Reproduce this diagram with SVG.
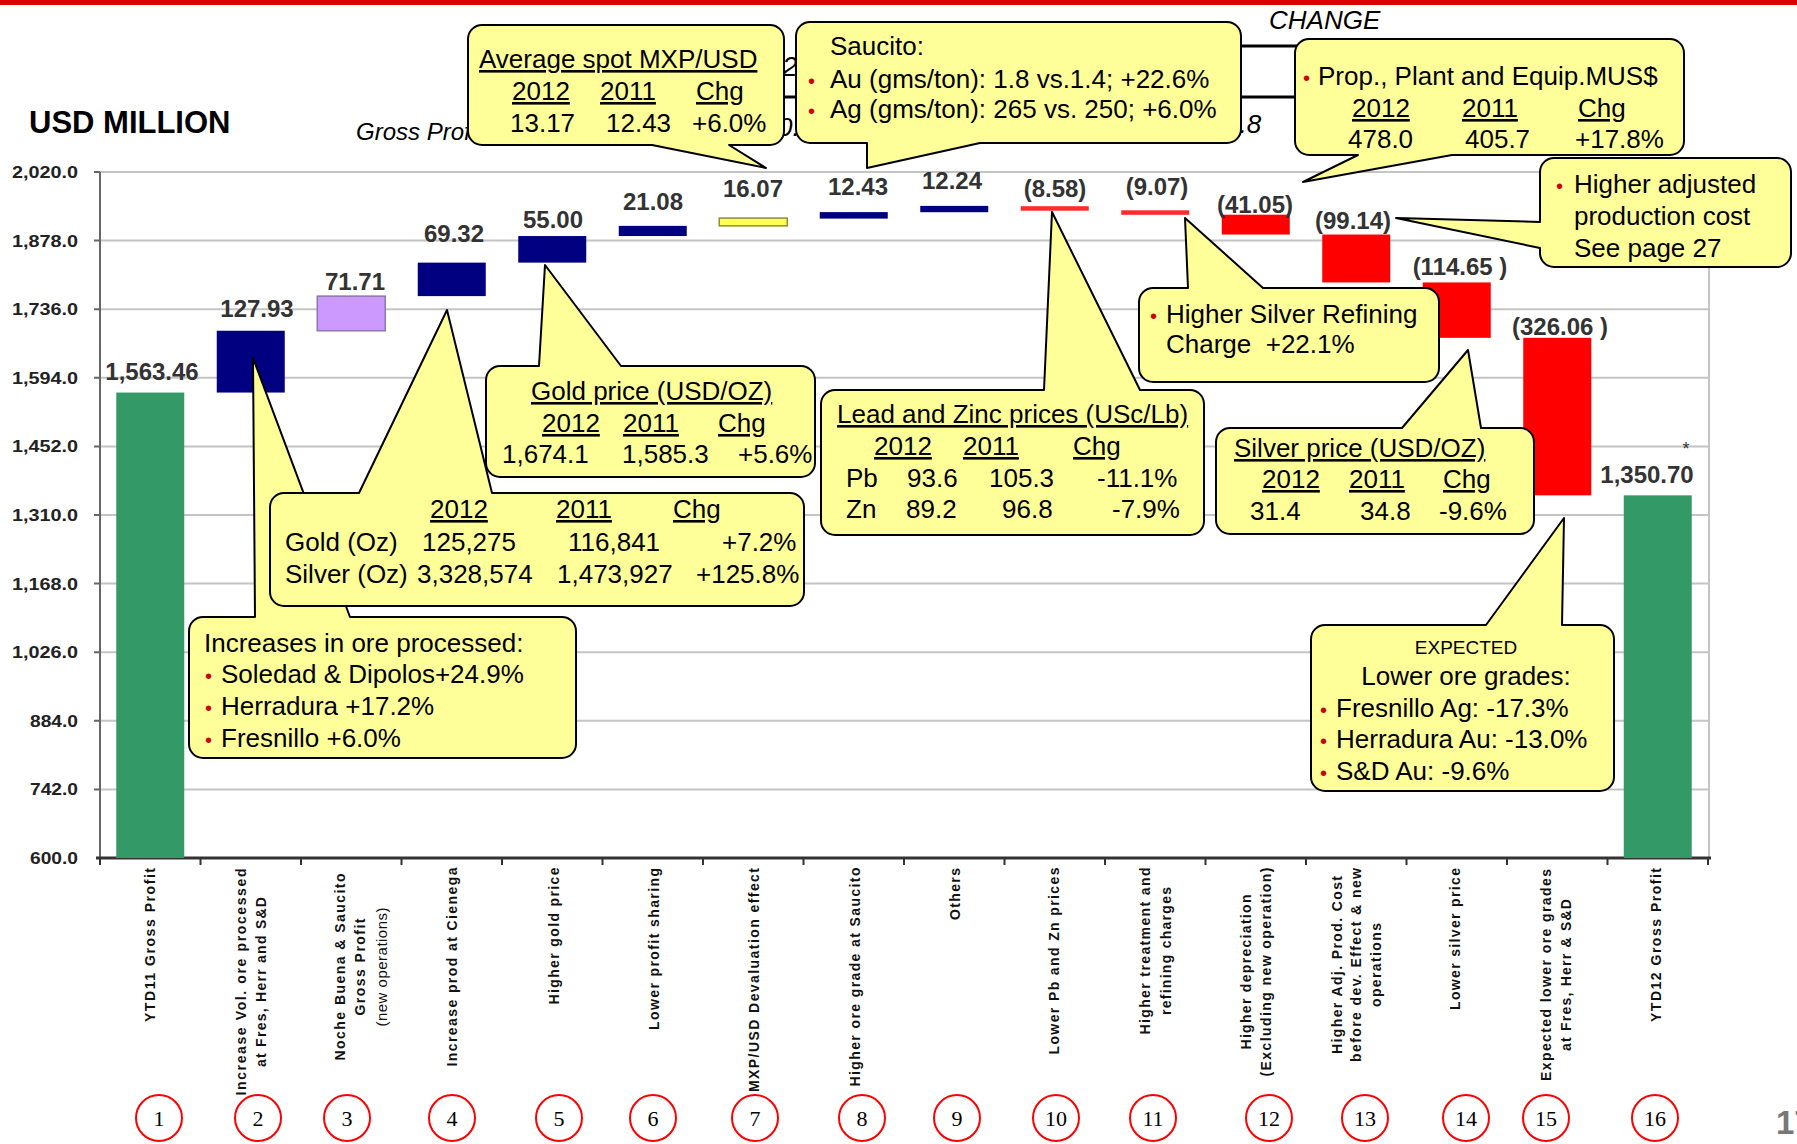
<svg xmlns="http://www.w3.org/2000/svg" width="1797" height="1144" viewBox="0 0 1797 1144">
<style>
text{font-family:"Liberation Sans",Arial,sans-serif}
.cl{fill:#ffff99;stroke:#000;stroke-width:2;stroke-linejoin:round}
.t{font-size:26px;fill:#000}
.u{text-decoration:underline}
.bl{font-size:20px;fill:#cc0000}
.v{font-size:24px;font-weight:bold;fill:#333;text-anchor:middle}
.ax{font-size:16px;font-weight:bold;fill:#222}
.cat{font-size:14px;font-weight:bold;fill:#111;text-anchor:middle}
.catr{font-size:15px;fill:#111;text-anchor:middle}
.num{font-family:"Liberation Serif","Times New Roman",serif;font-size:22px;fill:#000;text-anchor:middle}
.grid{stroke:#c4c4c4;stroke-width:2}
.hid{font-style:italic;fill:#000}
.navy{fill:#000080}
.red{fill:#ff0000}
.green{fill:#339966}
.circ{fill:none;stroke:#ff0000;stroke-width:2}
</style>
<rect x="0" y="0" width="1797" height="1144" fill="#fff"/>
<rect x="0" y="0" width="1797" height="5" fill="#dd0000"/>

<g id="title">
<text x="29" y="133" font-size="31" font-weight="bold" fill="#000">USD MILLION</text>
</g>

<g id="header-background">
<text class="hid" x="356" y="140" style="font-size:24px">Gross Profit</text>
<text class="hid" x="782" y="76" style="font-size:28px">2</text>
<text class="hid" x="778" y="136" style="font-size:26px">0.</text>
<text class="hid" x="1225" y="133" style="font-size:26px">2.8</text>
<text class="hid" x="1269" y="29" style="font-size:26px">CHANGE</text>
<line x1="1237" y1="46" x2="1297" y2="46" stroke="#000" stroke-width="3"/>
<line x1="1237" y1="97" x2="1297" y2="97" stroke="#000" stroke-width="3"/>
<line x1="778" y1="97" x2="798" y2="97" stroke="#000" stroke-width="3"/>
</g>

<g id="axes">
<line class="grid" x1="100" y1="172" x2="1709" y2="172"/>
<line class="grid" x1="100" y1="240.6" x2="1709" y2="240.6"/>
<line class="grid" x1="100" y1="309.2" x2="1709" y2="309.2"/>
<line class="grid" x1="100" y1="377.8" x2="1709" y2="377.8"/>
<line class="grid" x1="100" y1="446.4" x2="1709" y2="446.4"/>
<line class="grid" x1="100" y1="515" x2="1709" y2="515"/>
<line class="grid" x1="100" y1="583.6" x2="1709" y2="583.6"/>
<line class="grid" x1="100" y1="652.2" x2="1709" y2="652.2"/>
<line class="grid" x1="100" y1="720.8" x2="1709" y2="720.8"/>
<line class="grid" x1="100" y1="789.4" x2="1709" y2="789.4"/>
<line class="grid" x1="1709" y1="172" x2="1709" y2="858"/>
<line x1="100" y1="172" x2="100" y2="858" stroke="#666" stroke-width="2"/>
<path d="M94,172H100M94,240.6H100M94,309.2H100M94,377.8H100M94,446.4H100M94,515H100M94,583.6H100M94,652.2H100M94,720.8H100M94,789.4H100" stroke="#666" stroke-width="2"/>
<line x1="96" y1="858" x2="1711" y2="858" stroke="#333" stroke-width="3"/>
<path d="M100,858V865M200.5,858V865M301,858V865M401.5,858V865M502,858V865M602.5,858V865M703,858V865M803.5,858V865M904,858V865M1004.5,858V865M1105,858V865M1205.5,858V865M1306,858V865M1406.5,858V865M1507,858V865M1607.5,858V865M1708,858V865" stroke="#333" stroke-width="2"/>
<text class="ax" x="12" y="178" textLength="66" lengthAdjust="spacingAndGlyphs">2,020.0</text>
<text class="ax" x="12" y="246.6" textLength="66" lengthAdjust="spacingAndGlyphs">1,878.0</text>
<text class="ax" x="12" y="315.2" textLength="66" lengthAdjust="spacingAndGlyphs">1,736.0</text>
<text class="ax" x="12" y="383.8" textLength="66" lengthAdjust="spacingAndGlyphs">1,594.0</text>
<text class="ax" x="12" y="452.4" textLength="66" lengthAdjust="spacingAndGlyphs">1,452.0</text>
<text class="ax" x="12" y="521" textLength="66" lengthAdjust="spacingAndGlyphs">1,310.0</text>
<text class="ax" x="12" y="589.6" textLength="66" lengthAdjust="spacingAndGlyphs">1,168.0</text>
<text class="ax" x="12" y="658.2" textLength="66" lengthAdjust="spacingAndGlyphs">1,026.0</text>
<text class="ax" x="30" y="726.8" textLength="48" lengthAdjust="spacingAndGlyphs">884.0</text>
<text class="ax" x="30" y="795.4" textLength="48" lengthAdjust="spacingAndGlyphs">742.0</text>
<text class="ax" x="30" y="864" textLength="48" lengthAdjust="spacingAndGlyphs">600.0</text>
</g>

<g id="bars">
<rect id="bar1" class="green" x="116.25" y="392.55" width="68" height="465.45"/>
<rect id="bar2" class="navy" x="216.75" y="330.75" width="68" height="61.8"/>
<rect id="bar3" x="317.25" y="296.11" width="68" height="34.64" fill="#cc99ff" stroke="#8a7aa8" stroke-width="1.5"/>
<rect id="bar4" class="navy" x="417.75" y="262.62" width="68" height="33.49"/>
<rect id="bar5" class="navy" x="518.25" y="236.05" width="68" height="26.57"/>
<rect id="bar6" class="navy" x="618.75" y="225.87" width="68" height="10.18"/>
<rect id="bar7" x="719.25" y="218.1" width="68" height="7.77" fill="#ffff55" stroke="#8f8f30" stroke-width="1.5"/>
<rect id="bar8" class="navy" x="819.75" y="212.1" width="68" height="6.5"/>
<rect id="bar9" class="navy" x="920.25" y="205.9" width="68" height="6.3"/>
<rect id="bar10" fill="#ff2a2a" x="1020.75" y="206.2" width="68" height="4.5"/>
<rect id="bar11" fill="#ff2a2a" x="1121.25" y="210.3" width="68" height="4.5"/>
<rect id="bar12" class="red" x="1221.75" y="214.7" width="68" height="19.84"/>
<rect id="bar13" class="red" x="1322.25" y="234.54" width="68" height="47.9"/>
<rect id="bar14" class="red" x="1422.75" y="282.44" width="68" height="55.38"/>
<rect id="bar15" class="red" x="1523.25" y="337.82" width="68" height="157.52"/>
<rect id="bar16" class="green" x="1623.75" y="495.34" width="68" height="362.66"/>
</g>

<g id="value-labels">
<text class="v" x="152" y="380">1,563.46</text>
<text class="v" x="257" y="317">127.93</text>
<text class="v" x="355" y="290">71.71</text>
<text class="v" x="454" y="242">69.32</text>
<text class="v" x="553" y="228">55.00</text>
<text class="v" x="653" y="210">21.08</text>
<text class="v" x="753" y="197">16.07</text>
<text class="v" x="858" y="195">12.43</text>
<text class="v" x="952" y="189">12.24</text>
<text class="v" x="1055" y="197">(8.58)</text>
<text class="v" x="1157" y="195">(9.07)</text>
<text class="v" x="1255" y="213">(41.05)</text>
<text class="v" x="1353" y="229">(99.14)</text>
<text class="v" x="1460" y="275">(114.65 )</text>
<text class="v" x="1560" y="335">(326.06 )</text>
<text class="v" x="1647" y="483">1,350.70</text>
<text x="1686" y="455" font-size="18" fill="#333" text-anchor="middle">*</text>
</g>

<g id="category-labels">
<text class="cat" x="155" y="945" transform="rotate(-90 155 945)" textLength="154" lengthAdjust="spacing">YTD11 Gross Profit</text>
<text class="cat" x="246" y="982" transform="rotate(-90 246 982)" textLength="227" lengthAdjust="spacing">Increase Vol. ore processed</text>
<text class="cat" x="266" y="982" transform="rotate(-90 266 982)" textLength="170" lengthAdjust="spacing">at Fres, Herr and S&amp;D</text>
<text class="cat" x="345" y="967" transform="rotate(-90 345 967)" textLength="187" lengthAdjust="spacing">Noche Buena &amp; Saucito</text>
<text class="cat" x="365" y="967" transform="rotate(-90 365 967)" textLength="97" lengthAdjust="spacing">Gross Profit</text>
<text class="catr" x="387" y="967" transform="rotate(-90 387 967)" textLength="119" lengthAdjust="spacing">(new operations)</text>
<text class="cat" x="457" y="967" transform="rotate(-90 457 967)" textLength="199" lengthAdjust="spacing">Increase prod at Cienega</text>
<text class="cat" x="559" y="936" transform="rotate(-90 559 936)" textLength="137" lengthAdjust="spacing">Higher gold price</text>
<text class="cat" x="659" y="949" transform="rotate(-90 659 949)" textLength="162" lengthAdjust="spacing">Lower profit sharing</text>
<text class="cat" x="759" y="980" transform="rotate(-90 759 980)" textLength="224" lengthAdjust="spacing">MXP/USD Devaluation effect</text>
<text class="cat" x="860" y="977" transform="rotate(-90 860 977)" textLength="219" lengthAdjust="spacing">Higher ore grade at Saucito</text>
<text class="cat" x="960" y="894" transform="rotate(-90 960 894)" textLength="52" lengthAdjust="spacing">Others</text>
<text class="cat" x="1059" y="961" transform="rotate(-90 1059 961)" textLength="187" lengthAdjust="spacing">Lower Pb and Zn prices</text>
<text class="cat" x="1150" y="951" transform="rotate(-90 1150 951)" textLength="167" lengthAdjust="spacing">Higher treatment and</text>
<text class="cat" x="1171" y="951" transform="rotate(-90 1171 951)" textLength="128" lengthAdjust="spacing">refining charges</text>
<text class="cat" x="1251" y="972" transform="rotate(-90 1251 972)" textLength="155" lengthAdjust="spacing">Higher depreciation</text>
<text class="cat" x="1271" y="972" transform="rotate(-90 1271 972)" textLength="209" lengthAdjust="spacing">(Excluding new operation)</text>
<text class="cat" x="1342" y="965" transform="rotate(-90 1342 965)" textLength="178" lengthAdjust="spacing">Higher Adj. Prod. Cost</text>
<text class="cat" x="1361" y="965" transform="rotate(-90 1361 965)" textLength="194" lengthAdjust="spacing">before dev. Effect &amp; new</text>
<text class="cat" x="1381" y="965" transform="rotate(-90 1381 965)" textLength="84" lengthAdjust="spacing">operations</text>
<text class="cat" x="1460" y="939" transform="rotate(-90 1460 939)" textLength="142" lengthAdjust="spacing">Lower silver price</text>
<text class="cat" x="1551" y="975" transform="rotate(-90 1551 975)" textLength="212" lengthAdjust="spacing">Expected lower ore grades</text>
<text class="cat" x="1571" y="975" transform="rotate(-90 1571 975)" textLength="152" lengthAdjust="spacing">at Fres, Herr &amp; S&amp;D</text>
<text class="cat" x="1661" y="945" transform="rotate(-90 1661 945)" textLength="154" lengthAdjust="spacing">YTD12 Gross Profit</text>
</g>

<g id="step-numbers">
<g id="n1"><circle class="circ" cx="159" cy="1118" r="23"/><text class="num" x="159" y="1126">1</text></g>
<g id="n2"><circle class="circ" cx="258" cy="1118" r="23"/><text class="num" x="258" y="1126">2</text></g>
<g id="n3"><circle class="circ" cx="347" cy="1118" r="23"/><text class="num" x="347" y="1126">3</text></g>
<g id="n4"><circle class="circ" cx="452" cy="1118" r="23"/><text class="num" x="452" y="1126">4</text></g>
<g id="n5"><circle class="circ" cx="559" cy="1118" r="23"/><text class="num" x="559" y="1126">5</text></g>
<g id="n6"><circle class="circ" cx="653" cy="1118" r="23"/><text class="num" x="653" y="1126">6</text></g>
<g id="n7"><circle class="circ" cx="755" cy="1118" r="23"/><text class="num" x="755" y="1126">7</text></g>
<g id="n8"><circle class="circ" cx="862" cy="1118" r="23"/><text class="num" x="862" y="1126">8</text></g>
<g id="n9"><circle class="circ" cx="957" cy="1118" r="23"/><text class="num" x="957" y="1126">9</text></g>
<g id="n10"><circle class="circ" cx="1056" cy="1118" r="23"/><text class="num" x="1056" y="1126">10</text></g>
<g id="n11"><circle class="circ" cx="1153" cy="1118" r="23"/><text class="num" x="1153" y="1126">11</text></g>
<g id="n12"><circle class="circ" cx="1269" cy="1118" r="23"/><text class="num" x="1269" y="1126">12</text></g>
<g id="n13"><circle class="circ" cx="1365" cy="1118" r="23"/><text class="num" x="1365" y="1126">13</text></g>
<g id="n14"><circle class="circ" cx="1466" cy="1118" r="23"/><text class="num" x="1466" y="1126">14</text></g>
<g id="n15"><circle class="circ" cx="1546" cy="1118" r="23"/><text class="num" x="1546" y="1126">15</text></g>
<g id="n16"><circle class="circ" cx="1655" cy="1118" r="23"/><text class="num" x="1655" y="1126">16</text></g>
</g>

<text x="1776" y="1134" font-size="33" font-weight="bold" fill="#777">17</text>

<g id="callout-mxp">
<path class="cl" d="M482,25 H770 A14,14 0 0 1 784,39 V131 A14,14 0 0 1 770,145 H729 L766,168 L652,145 H482 A14,14 0 0 1 468,131 V39 A14,14 0 0 1 482,25 Z"/>
<text class="t u" x="479" y="68">Average spot MXP/USD</text>
<text class="t u" x="512" y="100">2012</text><text class="t u" x="600" y="100">2011</text><text class="t u" x="696" y="100">Chg</text>
<text class="t" x="510" y="132">13.17</text><text class="t" x="606" y="132">12.43</text><text class="t" x="692" y="132">+6.0%</text>
</g>

<g id="callout-saucito">
<path class="cl" d="M810,22 H1227 A14,14 0 0 1 1241,36 V129 A14,14 0 0 1 1227,143 H980 L867,168 L867,143 H810 A14,14 0 0 1 796,129 V36 A14,14 0 0 1 810,22 Z"/>
<text class="t" x="830" y="55">Saucito:</text>
<text class="bl" x="808" y="88">•</text><text class="t" x="830" y="88">Au (gms/ton): 1.8 vs.1.4; +22.6%</text>
<text class="bl" x="808" y="118">•</text><text class="t" x="830" y="118">Ag (gms/ton): 265 vs. 250; +6.0%</text>
</g>

<g id="callout-ppe">
<path class="cl" d="M1309,39 H1670 A14,14 0 0 1 1684,53 V141 A14,14 0 0 1 1670,155 H1452 L1303,182 L1358,155 H1309 A14,14 0 0 1 1295,141 V53 A14,14 0 0 1 1309,39 Z"/>
<text class="bl" x="1303" y="85">•</text><text class="t" x="1318" y="85">Prop., Plant and Equip.MUS$</text>
<text class="t u" x="1352" y="117">2012</text><text class="t u" x="1462" y="117">2011</text><text class="t u" x="1578" y="117">Chg</text>
<text class="t" x="1348" y="148">478.0</text><text class="t" x="1465" y="148">405.7</text><text class="t" x="1575" y="148">+17.8%</text>
</g>

<g id="callout-prodcost">
<path class="cl" d="M1554,158 H1777 A14,14 0 0 1 1791,172 V253 A14,14 0 0 1 1777,267 H1554 A14,14 0 0 1 1540,253 V248 L1396,218 L1540,222 V172 A14,14 0 0 1 1554,158 Z"/>
<text class="bl" x="1556" y="193">•</text><text class="t" x="1574" y="193">Higher adjusted</text>
<text class="t" x="1574" y="225">production cost</text>
<text class="t" x="1574" y="257">See page 27</text>
</g>

<g id="callout-refining">
<path class="cl" d="M1153,288 H1188 L1185,218 L1263,288 H1425 A14,14 0 0 1 1439,302 V368 A14,14 0 0 1 1425,382 H1153 A14,14 0 0 1 1139,368 V302 A14,14 0 0 1 1153,288 Z"/>
<text class="bl" x="1150" y="323">•</text><text class="t" x="1166" y="323">Higher Silver Refining</text>
<text class="t" x="1166" y="353">Charge&#160; +22.1%</text>
</g>

<g id="callout-ore">
<path class="cl" d="M203,617 H255 L253,358 L350,617 H562 A14,14 0 0 1 576,631 V744 A14,14 0 0 1 562,758 H203 A14,14 0 0 1 189,744 V631 A14,14 0 0 1 203,617 Z"/>
<text class="t" x="204" y="652">Increases in ore processed:</text>
<text class="bl" x="205" y="683">•</text><text class="t" x="221" y="683">Soledad &amp; Dipolos+24.9%</text>
<text class="bl" x="205" y="715">•</text><text class="t" x="221" y="715">Herradura +17.2%</text>
<text class="bl" x="205" y="747">•</text><text class="t" x="221" y="747">Fresnillo +6.0%</text>
</g>

<g id="callout-volumes">
<path class="cl" d="M284,493 H359 L447,310 L492,493 H790 A14,14 0 0 1 804,507 V592 A14,14 0 0 1 790,606 H284 A14,14 0 0 1 270,592 V507 A14,14 0 0 1 284,493 Z"/>
<text class="t u" x="430" y="518">2012</text><text class="t u" x="556" y="518">2011</text><text class="t u" x="673" y="518">Chg</text>
<text class="t" x="285" y="551">Gold (Oz)</text><text class="t" x="422" y="551">125,275</text><text class="t" x="568" y="551">116,841</text><text class="t" x="722" y="551">+7.2%</text>
<text class="t" x="285" y="583">Silver (Oz)</text><text class="t" x="417" y="583">3,328,574</text><text class="t" x="557" y="583">1,473,927</text><text class="t" x="696" y="583">+125.8%</text>
</g>

<g id="callout-gold">
<path class="cl" d="M500,366 H539 L545,265 L621,366 H801 A14,14 0 0 1 815,380 V463 A14,14 0 0 1 801,477 H500 A14,14 0 0 1 486,463 V380 A14,14 0 0 1 500,366 Z"/>
<text class="t u" x="531" y="400">Gold price (USD/OZ)</text>
<text class="t u" x="542" y="432">2012</text><text class="t u" x="623" y="432">2011</text><text class="t u" x="718" y="432">Chg</text>
<text class="t" x="502" y="463">1,674.1</text><text class="t" x="622" y="463">1,585.3</text><text class="t" x="738" y="463">+5.6%</text>
</g>

<g id="callout-leadzinc">
<path class="cl" d="M835,390 H1044 L1052,212 L1140,390 H1190 A14,14 0 0 1 1204,404 V521 A14,14 0 0 1 1190,535 H835 A14,14 0 0 1 821,521 V404 A14,14 0 0 1 835,390 Z"/>
<text class="t u" x="837" y="423">Lead and Zinc prices (USc/Lb)</text>
<text class="t u" x="874" y="455">2012</text><text class="t u" x="963" y="455">2011</text><text class="t u" x="1073" y="455">Chg</text>
<text class="t" x="846" y="487">Pb</text><text class="t" x="907" y="487">93.6</text><text class="t" x="989" y="487">105.3</text><text class="t" x="1097" y="487">-11.1%</text>
<text class="t" x="846" y="518">Zn</text><text class="t" x="906" y="518">89.2</text><text class="t" x="1002" y="518">96.8</text><text class="t" x="1112" y="518">-7.9%</text>
</g>

<g id="callout-silver">
<path class="cl" d="M1230,428 H1402 L1468,350 L1481,428 H1520 A14,14 0 0 1 1534,442 V520 A14,14 0 0 1 1520,534 H1230 A14,14 0 0 1 1216,520 V442 A14,14 0 0 1 1230,428 Z"/>
<text class="t u" x="1234" y="457">Silver price (USD/OZ)</text>
<text class="t u" x="1262" y="488">2012</text><text class="t u" x="1349" y="488">2011</text><text class="t u" x="1443" y="488">Chg</text>
<text class="t" x="1250" y="520">31.4</text><text class="t" x="1360" y="520">34.8</text><text class="t" x="1439" y="520">-9.6%</text>
</g>

<g id="callout-grades">
<path class="cl" d="M1325,625 H1486 L1564,518 L1562,625 H1600 A14,14 0 0 1 1614,639 V777 A14,14 0 0 1 1600,791 H1325 A14,14 0 0 1 1311,777 V639 A14,14 0 0 1 1325,625 Z"/>
<text x="1466" y="654" style="font-size:19px" fill="#000" text-anchor="middle">EXPECTED</text>
<text class="t" x="1466" y="685" text-anchor="middle">Lower ore grades:</text>
<text class="bl" x="1320" y="717">•</text><text class="t" x="1336" y="717">Fresnillo Ag: -17.3%</text>
<text class="bl" x="1320" y="748">•</text><text class="t" x="1336" y="748">Herradura Au: -13.0%</text>
<text class="bl" x="1320" y="780">•</text><text class="t" x="1336" y="780">S&amp;D Au: -9.6%</text>
</g>
</svg>
